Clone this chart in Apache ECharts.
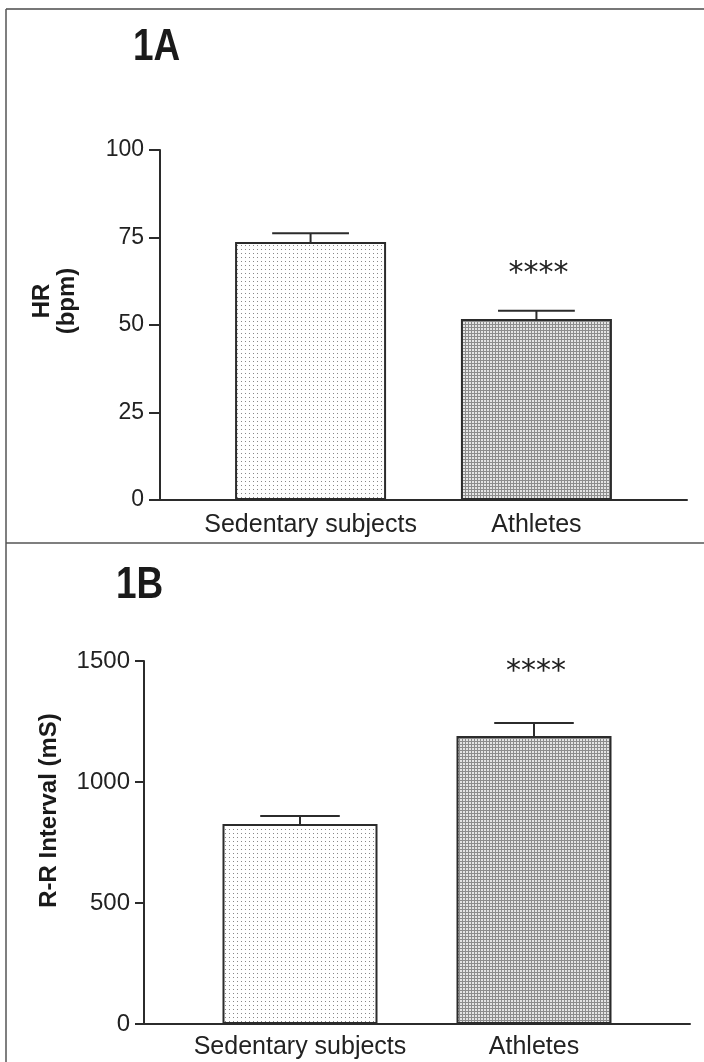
<!DOCTYPE html>
<html>
<head>
<meta charset="utf-8">
<script src="https://cdn.jsdelivr.net/npm/echarts@6/dist/echarts.min.js"></script>
<style>
  html, body { margin: 0; padding: 0; background: #fff; }
  #chart { width: 704px; height: 1062px; }
</style>
</head>
<body>
<div id="chart"></div>
<script>
// Group names and measured values (mean and SEM)
const categories = ['Sedentary subjects', 'Athletes'];
const hrMean = [73.7, 51.7];
const hrSem = [2.5, 2.4];
const rrMean = [826, 1190];
const rrSem = [33, 54];
const significance = ['', '****'];
const hrTicks = [0, 25, 50, 75, 100];
const rrTicks = [0, 500, 1000, 1500];
const panelLabels = ['1A', '1B'];
const axisNames = ['HR\n(bpm)', 'R-R Interval (mS)'];

const FONT = '"Liberation Sans", Arial, Helvetica, sans-serif';
const INK = '#2b2b2b';

// Fill patterns: fine dots for sedentary subjects, fine crosshatch for athletes
function dotPattern() {
  const c = document.createElement('canvas');
  c.width = 4; c.height = 4;
  const g = c.getContext('2d');
  g.fillStyle = '#ffffff'; g.fillRect(0, 0, 4, 4);
  g.fillStyle = '#888888'; g.fillRect(1, 1, 1, 1);
  return c;
}
function gridPattern() {
  const c = document.createElement('canvas');
  c.width = 3; c.height = 3;
  const g = c.getContext('2d');
  g.fillStyle = '#e4e4e4'; g.fillRect(0, 0, 3, 3);
  g.fillStyle = '#8c8c8c';
  g.fillRect(0, 0, 3, 1);
  g.fillRect(0, 0, 1, 3);
  return c;
}
const fills = [
  { image: dotPattern(), repeat: 'repeat' },
  { image: gridPattern(), repeat: 'repeat' }
];

const panels = [
  { mean: hrMean, sem: hrSem, ticks: hrTicks, name: axisNames[0],
    grid: { left: 160, top: 150, right: 17, bottom: 562 },
    barWidth: 151, tickFont: 23, tickLen: 11, labelMargin: 16, catMargin: 13,
    nameGap: 80, namePad: [0, 0, 0, 48], starGap: 36 },
  { mean: rrMean, sem: rrSem, ticks: rrTicks, name: axisNames[1],
    grid: { left: 144, top: 661, right: 14, bottom: 38 },
    barWidth: 155, tickFont: 24, tickLen: 9, labelMargin: 14, catMargin: 11,
    nameGap: 82, namePad: [0, 0, 0, 64], starGap: 51 }
];

const grid = [], xAxis = [], yAxis = [], series = [];

panels.forEach((p, i) => {
  grid.push(Object.assign({ containLabel: false }, p.grid));

  xAxis.push({
    type: 'value', gridIndex: i, min: 1 / 3, max: 8 / 3,
    axisLine: { show: true, onZero: false, lineStyle: { color: INK, width: 2 } },
    axisTick: { show: false },
    splitLine: { show: false },
    axisLabel: {
      customValues: categories.map((c, k) => k + 1),
      formatter: v => categories[Math.round(v) - 1] || '',
      fontFamily: FONT, fontSize: 25, color: '#222', margin: p.catMargin
    }
  });

  yAxis.push({
    type: 'value', gridIndex: i,
    min: p.ticks[0], max: p.ticks[p.ticks.length - 1],
    interval: p.ticks[1] - p.ticks[0],
    axisLine: { show: true, onZero: false, lineStyle: { color: INK, width: 2 } },
    axisTick: { show: true, length: p.tickLen, lineStyle: { color: INK, width: 2 } },
    splitLine: { show: false },
    axisLabel: {
      fontFamily: FONT, fontSize: p.tickFont, color: '#222', margin: p.labelMargin,
      formatter: v => String(v)
    },
    name: p.name, nameLocation: 'middle', nameGap: p.nameGap,
    nameTextStyle: {
      fontFamily: FONT, fontWeight: 'bold', fontSize: 24, color: '#1a1a1a',
      lineHeight: 25, padding: p.namePad
    }
  });

  series.push({
    type: 'bar', xAxisIndex: i, yAxisIndex: i,
    barWidth: p.barWidth,
    data: categories.map((c, k) => ({
      value: [k + 1, p.mean[k]],
      itemStyle: { color: fills[k], borderColor: INK, borderWidth: 2 }
    })),
    silent: true, animation: false
  });

  // Upper SEM whisker with cap, plus significance marks above it
  series.push({
    type: 'custom', xAxisIndex: i, yAxisIndex: i, silent: true, animation: false,
    data: categories.map((c, k) => [k + 1, p.mean[k], p.sem[k]]),
    renderItem: (params, api) => {
      const x = api.value(0), m = api.value(1), s = api.value(2);
      const base = api.coord([x, m]);
      const top = api.coord([x, m + s]);
      const half = api.size([0.17, 0])[0];
      const line = { stroke: INK, lineWidth: 2 };
      const children = [
        { type: 'line', shape: { x1: base[0], y1: base[1], x2: top[0], y2: top[1] }, style: line },
        { type: 'line', shape: { x1: top[0] - half, y1: top[1], x2: top[0] + half, y2: top[1] }, style: line }
      ];
      const mark = significance[params.dataIndex];
      if (mark) {
        children.push({
          type: 'text',
          style: {
            text: mark, x: top[0] + 2, y: top[1] - p.starGap,
            align: 'center', verticalAlign: 'middle',
            font: '30px "DejaVu Sans", sans-serif', fill: '#222'
          }
        });
      }
      return { type: 'group', children };
    }
  });
});

// Condensed bold panel labels
const panelLabelStyle = { font: 'bold 44px "Liberation Sans", Arial, sans-serif', fill: '#1a1a1a' };

const chart = echarts.init(document.getElementById('chart'), null, { renderer: 'canvas' });
chart.setOption({
  backgroundColor: '#ffffff',
  animation: false,
  grid, xAxis, yAxis, series,
  graphic: [
    { type: 'text', silent: true, x: 133, y: 26, scaleX: 0.84,
      style: Object.assign({ text: panelLabels[0] }, panelLabelStyle) },
    { type: 'text', silent: true, x: 116, y: 564, scaleX: 0.84,
      style: Object.assign({ text: panelLabels[1] }, panelLabelStyle) },
    { type: 'line', silent: true, shape: { x1: 6, y1: 9, x2: 704, y2: 9 }, style: { stroke: '#777', lineWidth: 2 } },
    { type: 'line', silent: true, shape: { x1: 6, y1: 9, x2: 6, y2: 1062 }, style: { stroke: '#555', lineWidth: 1.5 } },
    { type: 'line', silent: true, shape: { x1: 6, y1: 543, x2: 704, y2: 543 }, style: { stroke: '#555', lineWidth: 1.5 } }
  ]
});
</script>
</body>
</html>
